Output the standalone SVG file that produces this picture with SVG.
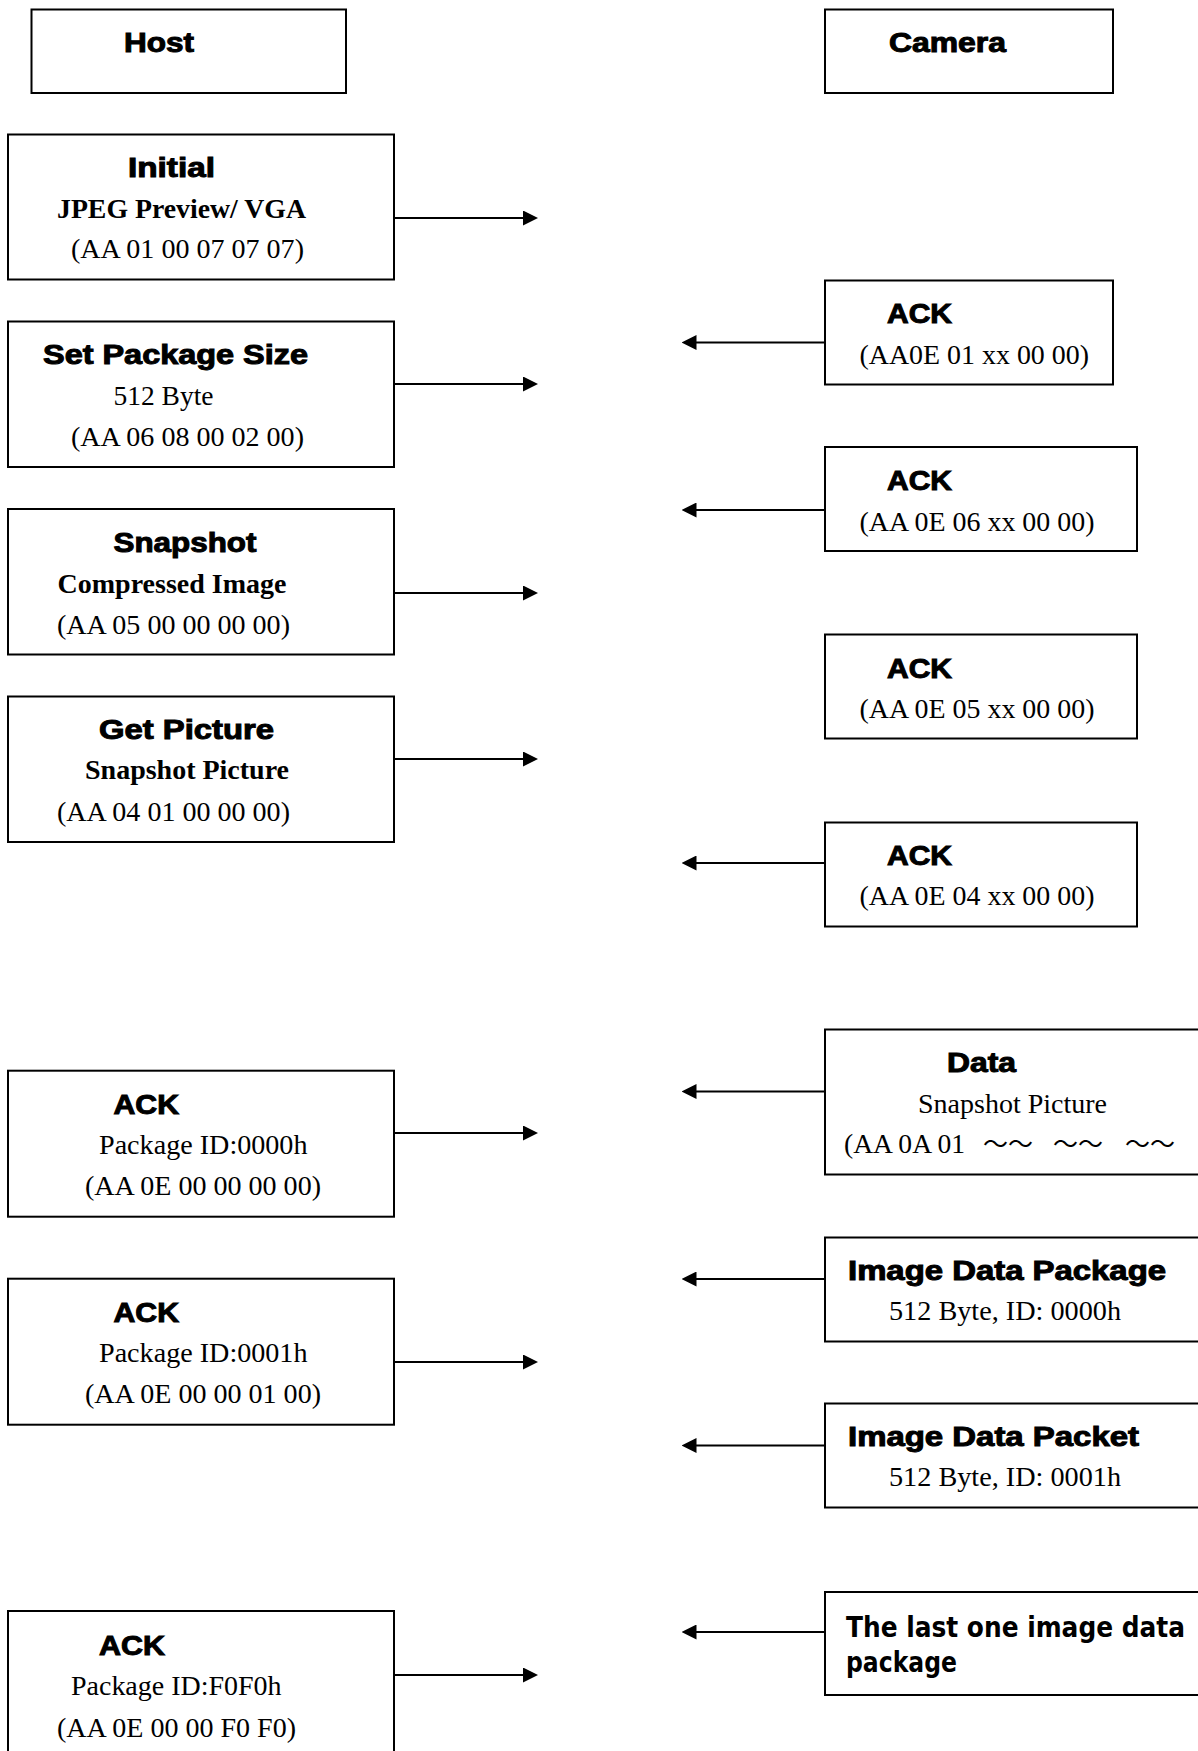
<svg xmlns="http://www.w3.org/2000/svg" width="1198" height="1751" viewBox="0 0 1198 1751">
  <style>
    .box { fill: #fff; stroke: #000; stroke-width: 2; }
    .hd { font-family: "Liberation Sans", Arial, sans-serif; font-weight: bold; font-size: 27px; fill: #000; stroke: #000; stroke-width: 1; }
    .tb { font-family: "Liberation Serif", "Times New Roman", serif; font-weight: bold; font-size: 27px; fill: #000; }
    .tr { font-family: "Liberation Serif", "Times New Roman", serif; font-size: 27px; fill: #000; }
    .th { font-family: "DejaVu Sans", Verdana, sans-serif; font-weight: bold; font-size: 28px; fill: #000; }
    .wave { font-family: "Liberation Serif", "Noto Sans CJK SC", serif; font-size: 25px; fill: #000; }
    .conn line { stroke: #000; stroke-width: 2; fill: none; }
  </style>
  <defs>
    <marker id="head" markerUnits="userSpaceOnUse" viewBox="0 0 15 15" markerWidth="15" markerHeight="15" refX="3" refY="7.5" orient="auto">
      <path d="M0,0 L15,7.5 L0,15 z" fill="#000"/>
    </marker>
  </defs>
  <rect width="1198" height="1751" fill="#fff"/>

  <!-- column headers -->
  <g id="host">
    <rect class="box" x="31.5" y="9.5" width="314.5" height="83.5"/>
    <text class="hd" x="124" y="52" textLength="70" lengthAdjust="spacingAndGlyphs">Host</text>
  </g>
  <g id="camera">
    <rect class="box" x="825" y="9.5" width="288" height="83.5"/>
    <text class="hd" x="889" y="52" textLength="117" lengthAdjust="spacingAndGlyphs">Camera</text>
  </g>

  <!-- host commands -->
  <g id="initial">
    <rect class="box" x="8" y="134.5" width="386" height="145"/>
    <text class="hd" x="128" y="177" textLength="87" lengthAdjust="spacingAndGlyphs">Initial</text>
    <text class="tb" x="57" y="218" textLength="249" lengthAdjust="spacingAndGlyphs">JPEG Preview/ VGA</text>
    <text class="tr" x="71" y="258" textLength="233" lengthAdjust="spacingAndGlyphs">(AA 01 00 07 07 07)</text>
  </g>
  <g id="set-package-size">
    <rect class="box" x="8" y="321.5" width="386" height="145.5"/>
    <text class="hd" x="43" y="364" textLength="265" lengthAdjust="spacingAndGlyphs">Set Package Size</text>
    <text class="tr" x="113.5" y="405" textLength="100" lengthAdjust="spacingAndGlyphs">512 Byte</text>
    <text class="tr" x="71" y="446" textLength="233" lengthAdjust="spacingAndGlyphs">(AA 06 08 00 02 00)</text>
  </g>
  <g id="snapshot">
    <rect class="box" x="8" y="509" width="386" height="145.5"/>
    <text class="hd" x="113.5" y="552" textLength="143" lengthAdjust="spacingAndGlyphs">Snapshot</text>
    <text class="tb" x="57.5" y="593" textLength="229" lengthAdjust="spacingAndGlyphs">Compressed Image</text>
    <text class="tr" x="57" y="634" textLength="233" lengthAdjust="spacingAndGlyphs">(AA 05 00 00 00 00)</text>
  </g>
  <g id="get-picture">
    <rect class="box" x="8" y="696.5" width="386" height="145.5"/>
    <text class="hd" x="99" y="738.5" textLength="175" lengthAdjust="spacingAndGlyphs">Get Picture</text>
    <text class="tb" x="85" y="779" textLength="204" lengthAdjust="spacingAndGlyphs">Snapshot Picture</text>
    <text class="tr" x="57" y="820.5" textLength="233" lengthAdjust="spacingAndGlyphs">(AA 04 01 00 00 00)</text>
  </g>
  <g id="ack-0000">
    <rect class="box" x="8" y="1070.7" width="386" height="146"/>
    <text class="hd" x="113.5" y="1114" textLength="65.5" lengthAdjust="spacingAndGlyphs">ACK</text>
    <text class="tr" x="99" y="1154" textLength="208.5" lengthAdjust="spacingAndGlyphs">Package ID:0000h</text>
    <text class="tr" x="85" y="1195" textLength="236" lengthAdjust="spacingAndGlyphs">(AA 0E 00 00 00 00)</text>
  </g>
  <g id="ack-0001">
    <rect class="box" x="8" y="1278.7" width="386" height="146"/>
    <text class="hd" x="113.5" y="1321.5" textLength="65.5" lengthAdjust="spacingAndGlyphs">ACK</text>
    <text class="tr" x="99" y="1361.5" textLength="208.5" lengthAdjust="spacingAndGlyphs">Package ID:0001h</text>
    <text class="tr" x="85" y="1403" textLength="236" lengthAdjust="spacingAndGlyphs">(AA 0E 00 00 01 00)</text>
  </g>
  <g id="ack-f0f0">
    <rect class="box" x="8" y="1611" width="386" height="200"/>
    <text class="hd" x="99" y="1655" textLength="66" lengthAdjust="spacingAndGlyphs">ACK</text>
    <text class="tr" x="71" y="1695" textLength="210.5" lengthAdjust="spacingAndGlyphs">Package ID:F0F0h</text>
    <text class="tr" x="57" y="1736.5" textLength="239" lengthAdjust="spacingAndGlyphs">(AA 0E 00 00 F0 F0)</text>
  </g>

  <!-- camera replies -->
  <g id="ack-initial">
    <rect class="box" x="825" y="280.5" width="288" height="104"/>
    <text class="hd" x="887" y="323" textLength="65" lengthAdjust="spacingAndGlyphs">ACK</text>
    <text class="tr" x="859.5" y="363.5" textLength="229.5" lengthAdjust="spacingAndGlyphs">(AA0E 01 xx 00 00)</text>
  </g>
  <g id="ack-package-size">
    <rect class="box" x="825" y="447" width="312" height="104"/>
    <text class="hd" x="887" y="489.5" textLength="65" lengthAdjust="spacingAndGlyphs">ACK</text>
    <text class="tr" x="859.5" y="530.5" textLength="235" lengthAdjust="spacingAndGlyphs">(AA 0E 06 xx 00 00)</text>
  </g>
  <g id="ack-snapshot">
    <rect class="box" x="825" y="634.5" width="312" height="104"/>
    <text class="hd" x="887" y="677.5" textLength="65" lengthAdjust="spacingAndGlyphs">ACK</text>
    <text class="tr" x="859.5" y="718" textLength="235" lengthAdjust="spacingAndGlyphs">(AA 0E 05 xx 00 00)</text>
  </g>
  <g id="ack-get-picture">
    <rect class="box" x="825" y="822.5" width="312" height="104"/>
    <text class="hd" x="887" y="865" textLength="65" lengthAdjust="spacingAndGlyphs">ACK</text>
    <text class="tr" x="859.5" y="905" textLength="235" lengthAdjust="spacingAndGlyphs">(AA 0E 04 xx 00 00)</text>
  </g>
  <g id="data">
    <rect class="box" x="825" y="1029.5" width="400" height="145"/>
    <text class="hd" x="947" y="1072" textLength="69" lengthAdjust="spacingAndGlyphs">Data</text>
    <text class="tr" x="918" y="1113" textLength="189" lengthAdjust="spacingAndGlyphs">Snapshot Picture</text>
    <text y="1153"><tspan class="tr" x="844" textLength="121" lengthAdjust="spacingAndGlyphs">(AA 0A 01</tspan><tspan class="wave" x="983">～～</tspan><tspan class="wave" x="1053">～～</tspan><tspan class="wave" x="1125">～～</tspan></text>
  </g>
  <g id="image-data-package">
    <rect class="box" x="825" y="1237.5" width="400" height="104"/>
    <text class="hd" x="848" y="1279.5" textLength="318" lengthAdjust="spacingAndGlyphs">Image Data Package</text>
    <text class="tr" x="889" y="1320" textLength="232" lengthAdjust="spacingAndGlyphs">512 Byte, ID: 0000h</text>
  </g>
  <g id="image-data-packet">
    <rect class="box" x="825" y="1403.5" width="400" height="104"/>
    <text class="hd" x="848" y="1446" textLength="291" lengthAdjust="spacingAndGlyphs">Image Data Packet</text>
    <text class="tr" x="889" y="1486" textLength="232" lengthAdjust="spacingAndGlyphs">512 Byte, ID: 0001h</text>
  </g>
  <g id="last-package">
    <rect class="box" x="825" y="1592" width="400" height="103"/>
    <text class="th" x="846" y="1637" textLength="339" lengthAdjust="spacingAndGlyphs">The last one image data</text>
    <text class="th" x="846" y="1672" textLength="111" lengthAdjust="spacingAndGlyphs">package</text>
  </g>

  <!-- message arrows -->
  <g id="connectors" class="conn">
    <line x1="394" y1="218" x2="526" y2="218" marker-end="url(#head)"/>
    <line x1="394" y1="384" x2="526" y2="384" marker-end="url(#head)"/>
    <line x1="394" y1="593" x2="526" y2="593" marker-end="url(#head)"/>
    <line x1="394" y1="759" x2="526" y2="759" marker-end="url(#head)"/>
    <line x1="394" y1="1133" x2="526" y2="1133" marker-end="url(#head)"/>
    <line x1="394" y1="1362" x2="526" y2="1362" marker-end="url(#head)"/>
    <line x1="394" y1="1675" x2="526" y2="1675" marker-end="url(#head)"/>
    <line x1="825" y1="342.5" x2="693.5" y2="342.5" marker-end="url(#head)"/>
    <line x1="825" y1="510" x2="693.5" y2="510" marker-end="url(#head)"/>
    <line x1="825" y1="863" x2="693.5" y2="863" marker-end="url(#head)"/>
    <line x1="825" y1="1091.5" x2="693.5" y2="1091.5" marker-end="url(#head)"/>
    <line x1="825" y1="1279" x2="693.5" y2="1279" marker-end="url(#head)"/>
    <line x1="825" y1="1445.5" x2="693.5" y2="1445.5" marker-end="url(#head)"/>
    <line x1="825" y1="1632" x2="693.5" y2="1632" marker-end="url(#head)"/>
  </g>
</svg>
